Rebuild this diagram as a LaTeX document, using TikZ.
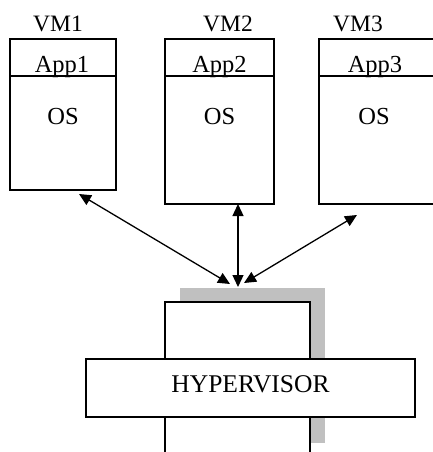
\documentclass[tikz,border=0pt]{standalone}
\usepackage{fontspec}
\setmainfont{Liberation Serif}
\usetikzlibrary{arrows.meta}
\definecolor{shade}{RGB}{192,192,192}
\begin{document}
\begin{tikzpicture}[x=1pt,y=-1pt,
  box/.style={draw=black,line width=1.3pt,fill=white,rectangle,inner sep=0pt},
  vmlab/.style={font=\fontsize{23.5}{23.5}\selectfont,anchor=base},
  txt/.style={font=\fontsize{24.5}{24.5}\selectfont,anchor=base},
  link/.style={line width=1.3pt,{Triangle[length=12pt,width=11pt]}-{Triangle[length=12pt,width=11pt]}}]
\useasboundingbox (0,0) rectangle (433,452);
\clip (0,0) rectangle (433,452);
% VM boxes
\node[box,minimum width=106pt,minimum height=151pt] (vm1) at (63,114.5) {};
\node[box,minimum width=109pt,minimum height=165pt] (vm2) at (219.5,121.5) {};
\node[box,minimum width=125pt,minimum height=165pt] (vm3) at (381.5,121.5) {};
\draw[line width=1.3pt] (vm1.west |- 0,76) -- (vm1.east |- 0,76);
\draw[line width=1.3pt] (vm2.west |- 0,76) -- (vm2.east |- 0,76);
\draw[line width=1.3pt] (vm3.west |- 0,76) -- (vm3.east |- 0,76);
\node[vmlab] (l1) at (58,32) {VM1};
\node[vmlab] (l2) at (228,32) {VM2};
\node[vmlab] (l3) at (358,32) {VM3};
\node[txt] (a1) at (62,73) {App1};
\node[txt] (a2) at (219.5,73) {App2};
\node[txt] (a3) at (375,73) {App3};
\node[txt] (o1) at (63,124) {OS};
\node[txt] (o2) at (219.5,124) {OS};
\node[txt] (o3) at (374,124) {OS};
% hypervisor stack
\node[fill=shade,minimum width=145pt,minimum height=155pt,inner sep=0pt] (shadow) at (252.5,365.5) {};
\node[box,minimum width=145pt,minimum height=170pt] (core) at (237.5,387) {};
\node[box,minimum width=329pt,minimum height=58pt] (hyp) at (250.5,388) {};
\node[font=\fontsize{25.5}{25.5}\selectfont,anchor=base] (hyptxt) at (250.5,392) {HYPERVISOR};
% arrows
\coordinate (e1) at (230,284);
\coordinate (e2) at (238,287);
\coordinate (e3) at (244,283);
\coordinate (t1) at (79,194);
\coordinate (t2) at (238,204);
\coordinate (t3) at (357,215);
\draw[link] (e1) -- (t1);
\draw[link] (e2) -- (t2);
\draw[link] (e3) -- (t3);
\end{tikzpicture}
\end{document}
